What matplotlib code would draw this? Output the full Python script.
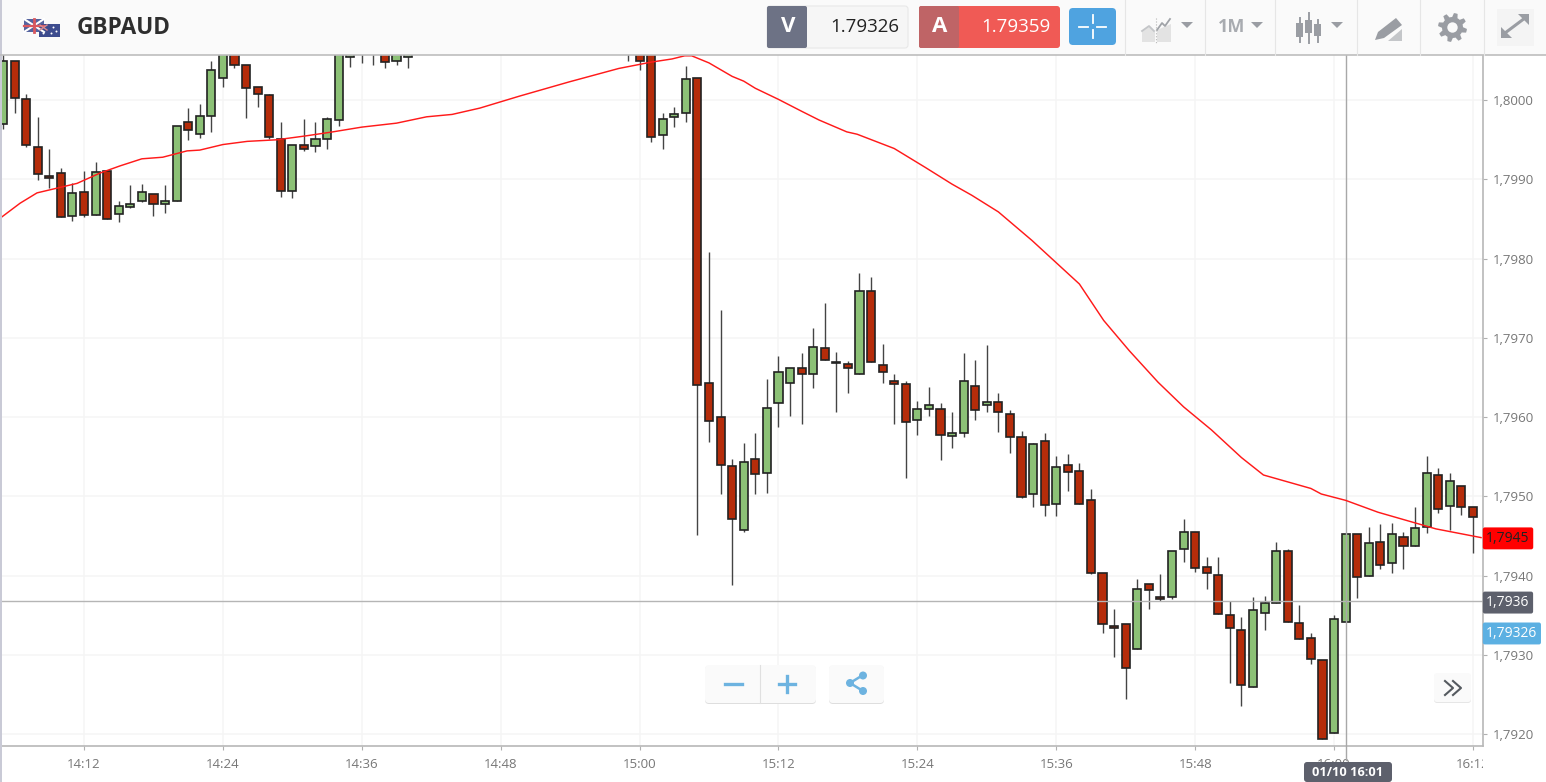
import numpy as np
from matplotlib import pyplot as plt
from matplotlib.patches import Rectangle, FancyBboxPatch, Circle, Polygon
from matplotlib.transforms import Bbox

plt.rcParams['font.family'] = ['Open Sans', 'DejaVu Sans']

# candle data, minutes after 14:00
minutes = list(range(5, 41)) + list(range(59, 133))
opens = [1.79970, 1.80050, 1.80001, 1.79941, 1.79904, 1.79908, 1.79854, 1.79884, 1.79855, 1.79910,
         1.79856, 1.79865, 1.79873, 1.79881, 1.79869, 1.79873, 1.79973, 1.79957, 1.79980, 1.80028,
         1.80063, 1.80044, 1.80016, 1.80006, 1.79951, 1.79886, 1.79943, 1.79942, 1.79951, 1.79975,
         1.80054, 1.80061, 1.80061, 1.80063, 1.80050, 1.80054,
         1.80063, 1.80063, 1.80069, 1.79956, 1.79979, 1.79984, 1.80028, 1.79643, 1.79600, 1.79538,
         1.79457, 1.79547, 1.79529, 1.79618, 1.79643, 1.79662, 1.79654, 1.79687, 1.79668, 1.79667,
         1.79654, 1.79759, 1.79666, 1.79645, 1.79642, 1.79596, 1.79610, 1.79610, 1.79576, 1.79580,
         1.79639, 1.79615, 1.79619, 1.79604, 1.79575, 1.79503, 1.79570, 1.79490, 1.79539, 1.79532,
         1.79496, 1.79403, 1.79337, 1.79339, 1.79308, 1.79389, 1.79373, 1.79373, 1.79433, 1.79455,
         1.79411, 1.79401, 1.79350, 1.79332, 1.79260, 1.79353, 1.79366, 1.79431, 1.79340, 1.79321,
         1.79293, 1.79202, 1.79342, 1.79452, 1.79399, 1.79442, 1.79416, 1.79449, 1.79437, 1.79461,
         1.79527, 1.79488, 1.79513, 1.79486]
closes = [1.80049, 1.80003, 1.79943, 1.79907, 1.79902, 1.79852, 1.79883, 1.79855, 1.79909, 1.79850,
          1.79867, 1.79869, 1.79884, 1.79869, 1.79873, 1.79967, 1.79962, 1.79980, 1.80038, 1.80063,
          1.80044, 1.80015, 1.80008, 1.79953, 1.79886, 1.79943, 1.79939, 1.79951, 1.79976, 1.80069,
          1.80061, 1.80063, 1.80063, 1.80048, 1.80063, 1.80063,
          1.80060, 1.80050, 1.79953, 1.79976, 1.79982, 1.80027, 1.79640, 1.79595, 1.79539, 1.79472,
          1.79544, 1.79528, 1.79611, 1.79657, 1.79662, 1.79655, 1.79688, 1.79672, 1.79669, 1.79662,
          1.79759, 1.79669, 1.79657, 1.79642, 1.79594, 1.79610, 1.79615, 1.79578, 1.79580, 1.79645,
          1.79609, 1.79619, 1.79606, 1.79575, 1.79499, 1.79566, 1.79489, 1.79537, 1.79531, 1.79490,
          1.79403, 1.79339, 1.79334, 1.79284, 1.79383, 1.79382, 1.79370, 1.79431, 1.79455, 1.79409,
          1.79403, 1.79351, 1.79334, 1.79262, 1.79356, 1.79366, 1.79431, 1.79342, 1.79320, 1.79295,
          1.79194, 1.79345, 1.79452, 1.79398, 1.79441, 1.79413, 1.79452, 1.79437, 1.79460, 1.79529,
          1.79484, 1.79519, 1.79486, 1.79474]
highs = [1.80063, 1.80050, 1.80008, 1.79979, 1.79939, 1.79914, 1.79895, 1.79910, 1.79922, 1.79910,
         1.79873, 1.79893, 1.79894, 1.79881, 1.79893, 1.79967, 1.79990, 1.79995, 1.80049, 1.80069,
         1.80069, 1.80045, 1.80016, 1.80008, 1.79972, 1.79943, 1.79976, 1.79972, 1.79979, 1.80076,
         1.80069, 1.80069, 1.80069, 1.80069, 1.80069, 1.80069,
         1.80069, 1.80069, 1.80076, 1.79984, 1.79991, 1.80043, 1.80028, 1.79808, 1.79735, 1.79547,
         1.79567, 1.79580, 1.79648, 1.79677, 1.79662, 1.79681, 1.79712, 1.79744, 1.79682, 1.79671,
         1.79782, 1.79777, 1.79692, 1.79655, 1.79645, 1.79620, 1.79638, 1.79618, 1.79606, 1.79681,
         1.79672, 1.79691, 1.79630, 1.79609, 1.79582, 1.79567, 1.79580, 1.79551, 1.79553, 1.79542,
         1.79509, 1.79403, 1.79358, 1.79339, 1.79396, 1.79389, 1.79402, 1.79431, 1.79472, 1.79455,
         1.79423, 1.79423, 1.79368, 1.79348, 1.79373, 1.79374, 1.79442, 1.79433, 1.79363, 1.79327,
         1.79293, 1.79350, 1.79452, 1.79452, 1.79461, 1.79465, 1.79466, 1.79455, 1.79486, 1.79551,
         1.79536, 1.79529, 1.79513, 1.79486]
lows = [1.79963, 1.79984, 1.79941, 1.79899, 1.79889, 1.79852, 1.79847, 1.79852, 1.79855, 1.79850,
        1.79846, 1.79864, 1.79871, 1.79854, 1.79857, 1.79873, 1.79950, 1.79952, 1.79960, 1.80016,
        1.80040, 1.79977, 1.79992, 1.79951, 1.79878, 1.79876, 1.79936, 1.79934, 1.79939, 1.79968,
        1.80042, 1.80047, 1.80044, 1.80040, 1.80044, 1.80040,
        1.80050, 1.80038, 1.79947, 1.79939, 1.79966, 1.79972, 1.79451, 1.79568, 1.79503, 1.79388,
        1.79455, 1.79503, 1.79504, 1.79587, 1.79601, 1.79591, 1.79637, 1.79672, 1.79606, 1.79631,
        1.79654, 1.79669, 1.79643, 1.79591, 1.79523, 1.79577, 1.79601, 1.79546, 1.79561, 1.79575,
        1.79597, 1.79606, 1.79581, 1.79555, 1.79498, 1.79486, 1.79475, 1.79475, 1.79507, 1.79490,
        1.79402, 1.79327, 1.79297, 1.79244, 1.79308, 1.79358, 1.79368, 1.79370, 1.79417, 1.79404,
        1.79383, 1.79351, 1.79264, 1.79236, 1.79260, 1.79331, 1.79365, 1.79342, 1.79320, 1.79288,
        1.79194, 1.79202, 1.79342, 1.79372, 1.79399, 1.79408, 1.79403, 1.79408, 1.79437, 1.79454,
        1.79479, 1.79457, 1.79476, 1.79428]

# moving average
ma_minutes = [4.75, 6.48, 7.94, 9.67, 11.4, 13.38, 15.1, 17.0, 18.8, 20.9, 22.0, 24.0, 26.1, 28.65, 31.2,
              33.5, 36.0, 39.0, 41.6, 43.8, 46.2, 49.6, 53.9, 58.2, 61.0, 62.8, 63.9, 64.5, 66.0, 68.0,
              69.0, 70.0, 72.0, 74.0, 75.5, 77.9, 78.8, 82.0, 84.7, 87.0, 88.7, 91.0, 93.9, 98.0, 100.1,
              102.3, 104.8, 107.0, 109.4, 112.0, 113.9, 118.0, 118.9, 121.0, 123.8, 128.8, 132.7]
ma_values = [1.79851, 1.79870, 1.79883, 1.79889, 1.79895, 1.79908, 1.79917, 1.79926, 1.79928, 1.79936,
             1.79937, 1.79944, 1.79948, 1.79950, 1.79955, 1.79960, 1.79966, 1.79971, 1.79979, 1.79982,
             1.79990, 1.80005, 1.80023, 1.80040, 1.80048, 1.80052, 1.80056, 1.80056, 1.80047, 1.80030,
             1.80024, 1.80015, 1.80001, 1.79986, 1.79975, 1.79960, 1.79957, 1.79939, 1.79915, 1.79894,
             1.79880, 1.79859, 1.79823, 1.79768, 1.79722, 1.79684, 1.79644, 1.79613, 1.79584, 1.79549,
             1.79527, 1.79510, 1.79503, 1.79495, 1.79480, 1.79459, 1.79448]

x_ticks = [12, 24, 36, 48, 60, 72, 84, 96, 108, 120, 132]
x_labels = ['14:12', '14:24', '14:36', '14:48', '15:00', '15:12', '15:24', '15:36', '15:48', '16:00', '16:12']
y_ticks = [1.7920, 1.7930, 1.7940, 1.7950, 1.7960, 1.7970, 1.7980, 1.7990, 1.8000]
y_labels = ['1,7920', '1,7930', '1,7940', '1,7950', '1,7960', '1,7970', '1,7980', '1,7990', '1,8000']

cross_minute = 121
cross_price = 1.79368
last_ma = 1.79447
bid = 1.79327

RED = '#b52c0a'
GREEN = '#8cc176'
GREY = '#9a9da3'

W, H = 1546, 782
fig = plt.figure(figsize=(W / 100, H / 100), dpi=100)
ax = fig.add_axes([0, (H - 746) / H, 1483 / W, (746 - 55) / H])
ax.set_xlim(4.742, 132.87)
ax.set_ylim(1.79185, 1.80057)

ax.grid(True, color='#f5f5f5', lw=1.1)
ax.set_axisbelow(True)
ax.set_xticks(x_ticks)
ax.set_xticklabels(x_labels)
ax.set_yticks(y_ticks)
ax.set_yticklabels(y_labels)
ax.yaxis.tick_right()
ax.tick_params(axis='both', colors='#b0b0b0', length=3, width=0.8, labelcolor='#777777', labelsize=9.5)
ax.tick_params(axis='x', pad=6)
ax.tick_params(axis='y', pad=4)
for s in ['top', 'left']:
    ax.spines[s].set_visible(False)
for s in ['right', 'bottom']:
    ax.spines[s].set_color('#b8b8b8')
    ax.spines[s].set_linewidth(1.2)

# the last time label runs into the price axis and gets cut off there
last = ax.get_xticklabels()[-1]
last.set_clip_box(Bbox([[0, 0], [1483, H]]))
last.set_clip_on(True)

m = np.array(minutes)
o = np.array(opens)
c = np.array(closes)
colors = [GREEN if c[i] >= o[i] else RED for i in range(len(m))]
ax.vlines(m, lows, highs, color='#444444', lw=1.0, zorder=2)
ax.bar(m, np.abs(c - o), bottom=np.minimum(o, c), width=0.7, color=colors,
       edgecolor='#222222', linewidth=1.2, zorder=3)

ax.axhline(cross_price, color='#b5b5b5', lw=1.0, zorder=4)
ax.axvline(cross_minute, ymin=-0.02, color='#a8a8a8', lw=1.0, zorder=4, clip_on=False)
ax.plot(ma_minutes, ma_values, color='#ff1a1a', lw=1.05, zorder=5)

# price tags on the axis
yt = ax.get_yaxis_transform()
ax.text(1.0022, last_ma, '1,7945', transform=yt, va='center', ha='left', fontsize=10, color='#222222', zorder=8,
        clip_on=False, bbox=dict(boxstyle='round,pad=0.25,rounding_size=0.15', fc='#ff0000', ec='none'))
ax.text(1.0022, cross_price - 0.00002, '1,7936', transform=yt, va='center', ha='left', fontsize=10, color='white',
        zorder=8, clip_on=False, bbox=dict(boxstyle='round,pad=0.25,rounding_size=0.15', fc='#5d606c', ec='none'))
ax.text(1.0022, bid, '1,79326', transform=yt, va='center', ha='left', fontsize=10, color='white', zorder=8,
        clip_on=False, bbox=dict(boxstyle='round,pad=0.25,rounding_size=0.15', fc='#5cb0e2', ec='none'))

# toolbar and buttons, in pixels
ui = fig.add_axes([0, 0, 1, 1], zorder=10)
ui.set_xlim(0, W)
ui.set_ylim(H, 0)
ui.axis('off')
ui.patch.set_alpha(0)


def box(x0, y0, x1, y1, fc, ec='none', lw=0, r=0):
    if r:
        p = FancyBboxPatch((x0 + r, y0 + r), x1 - x0 - 2 * r, y1 - y0 - 2 * r,
                           boxstyle='round,pad=%g,rounding_size=%g' % (r, r), fc=fc, ec=ec, lw=lw)
    else:
        p = Rectangle((x0, y0), x1 - x0, y1 - y0, fc=fc, ec=ec, lw=lw)
    ui.add_patch(p)


box(0, 0, W, 55, '#fafafa')
ui.plot([0, W], [55, 55], color='#bdbdbd', lw=1.2)
box(0, 0, 2, H, '#c9cad6')

for sx in [1125, 1205, 1275, 1357, 1420, 1484]:
    ui.plot([sx, sx], [0, 55], color='#e6e6e6', lw=0.8)

# flags
box(24, 19, 44, 32, '#55639f')
ui.plot([24, 44], [19, 32], color='white', lw=1.5)
ui.plot([24, 44], [32, 19], color='white', lw=1.5)
ui.plot([34, 34], [19, 32], color='#d9585f', lw=2)
ui.plot([24, 44], [25.5, 25.5], color='#d9585f', lw=1.6)
box(39, 24, 60, 37, '#3d4c8e')
ui.plot([40, 47], [25, 30], color='#d98a90', lw=1)
ui.plot([40, 47], [30, 25], color='#d98a90', lw=1)
ui.scatter([43, 53, 56, 51], [33, 27, 31, 33], s=2, color='white', lw=0)

ui.text(77, 27.5, 'GBPAUD', fontsize=16.3, fontweight='bold', color='#2e2e2e', va='center', ha='left')

box(767, 6, 908, 48, '#f6f6f6', ec='#e8e8e8', lw=0.8, r=3)
box(767, 6, 807, 48, '#6d7285', r=2)
ui.text(788, 27, 'V', fontsize=16, fontweight='bold', color='white', va='center', ha='center')
ui.text(899, 27, '1.79326', fontsize=13.5, color='#222222', va='center', ha='right')
box(919, 6, 1060, 48, '#f05a55', r=3)
box(919, 6, 959, 48, '#bf6466', r=2)
ui.text(940, 27, 'A', fontsize=16, fontweight='bold', color='white', va='center', ha='center')
ui.text(1051, 27, '1.79359', fontsize=13.5, color='white', va='center', ha='right')

box(1069, 8, 1116, 45, '#4fa3e0', r=4)
ui.plot([1092.5, 1092.5], [15, 23], color='white', lw=1.3)
ui.plot([1092.5, 1092.5], [30, 38], color='white', lw=1.3)
ui.plot([1079, 1088], [26.5, 26.5], color='white', lw=1.3)
ui.plot([1097, 1106], [26.5, 26.5], color='white', lw=1.3)


def caret(x):
    ui.add_patch(Polygon([[x - 6, 22], [x + 6, 22], [x, 28]], fc='#9a9da3', ec='none'))


# chart type icon
ui.add_patch(Polygon([[1142, 42], [1142, 31], [1149, 26], [1155, 32], [1155, 42]], fc='#e3e3e3', ec='none'))
ui.add_patch(Polygon([[1157, 42], [1157, 30], [1171, 24], [1171, 42]], fc='#e3e3e3', ec='none'))
ui.plot([1157, 1162, 1165, 1170], [30, 23, 26, 19], color='#a0a3a8', lw=1.3)
ui.plot([1142, 1149, 1154], [31, 26, 31], color='#c4c6c9', lw=1.3)
ui.plot([1156, 1156], [18, 44], color='#b8b8b8', lw=0.8, ls=':')
caret(1187)
ui.text(1232, 27.5, '1M', fontsize=13, fontweight='bold', color='#a8abb0', va='center', ha='center')
caret(1257)

# candle icon
for cx, y0, y1, t, b in [(1299.5, 18, 42, 23, 37), (1308.5, 13, 43, 20, 33), (1317.5, 20, 42, 24, 36)]:
    ui.plot([cx, cx], [y0, y1], color=GREY, lw=1.4)
    box(cx - 3.5, t, cx + 3.5, b, GREY)
caret(1337)

# pencil icon
ui.add_patch(Polygon([[1375, 40], [1378, 32], [1396, 18], [1402, 25], [1384, 38]], fc=GREY, ec='none'))
ui.add_patch(Polygon([[1388, 41], [1402, 29], [1402, 41]], fc='#c4c6c9', ec='none'))

# gear icon
ang = np.linspace(0, 2 * np.pi, 49)[:-1]
rad = np.tile([14.5, 14.5, 14.5, 10.5, 10.5, 10.5], 8)
ui.add_patch(Polygon(np.c_[1452.5 + rad * np.cos(ang + 0.1), 27.5 + rad * np.sin(ang + 0.1)], fc=GREY, ec='none'))
ui.add_patch(Circle((1452.5, 27.5), 5.2, fc='#fafafa', ec='none'))

# expand icon
box(1497, 9, 1534, 46, '#f4f4f4')
ui.plot([1505, 1525], [33, 18], color=GREY, lw=2.2)
ui.add_patch(Polygon([[1501, 38], [1501, 27], [1512, 38]], fc=GREY, ec='none'))
ui.add_patch(Polygon([[1529, 14], [1529, 25], [1518, 14]], fc=GREY, ec='none'))

# zoom and share buttons
box(705, 666, 816, 704, '#dedede', r=4)
box(705, 665, 816, 703, '#fafafa', r=4)
ui.plot([759.5, 759.5], [665, 703], color='#e0e0e0', lw=0.8)
ui.plot([725, 742], [683.5, 683.5], color='#6db3e0', lw=2.4)
ui.plot([779, 795], [683.5, 683.5], color='#6db3e0', lw=2.4)
ui.plot([787, 787], [675.5, 691.5], color='#6db3e0', lw=2.4)
box(829, 666, 884, 704, '#dedede', r=4)
box(829, 665, 884, 703, '#fafafa', r=4)
ui.plot([863, 850, 863], [675, 683, 691], color='#6db3e0', lw=1.8)
for px, py in [(863, 675.5), (850, 683), (863, 691)]:
    ui.add_patch(Circle((px, py), 4, fc='#6db3e0', ec='none'))

# scroll button
box(1434, 674, 1471, 703, '#e6e6e6', r=3)
box(1434, 673, 1471, 702, '#fafafa', r=3)
ui.plot([1445, 1453, 1445], [681, 688, 695], color='#555a60', lw=1.5)
ui.plot([1453, 1461, 1453], [681, 688, 695], color='#555a60', lw=1.5)

# crosshair time tag
box(1304, 762, 1392, 782, '#5d606c', r=3)
ui.text(1348, 772, '01/10 16:01', fontsize=9.2, fontweight='bold', color='white', va='center', ha='center')

fig.savefig('out.png', dpi=100)
